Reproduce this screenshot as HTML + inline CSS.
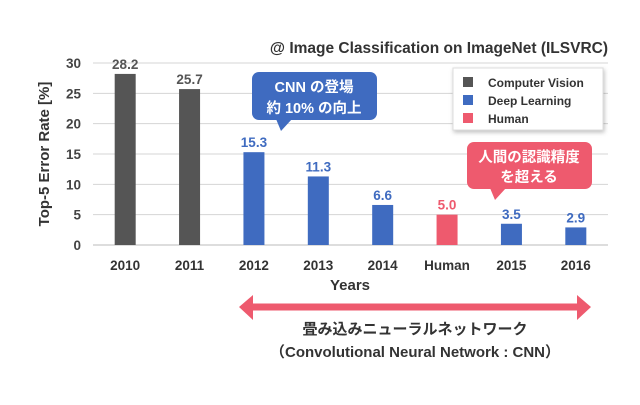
<!DOCTYPE html>
<html><head><meta charset="utf-8"><style>
body{margin:0;background:#fff}
svg text{font-family:"Liberation Sans","Noto Sans CJK JP",sans-serif;font-weight:bold}
</style></head><body>
<svg width="640" height="400" viewBox="0 0 640 400">
<text x="608" y="53" text-anchor="end" font-size="15.5" fill="#333">@ Image Classification on ImageNet (ILSVRC)</text>
<g id="grid"></g>
<g id="bars"></g>
<text transform="translate(49,154) rotate(-90)" text-anchor="middle" font-size="15" fill="#333">Top-5 Error Rate [%]</text>
<text x="350" y="290" text-anchor="middle" font-size="15" fill="#333">Years</text>
<g>
<rect x="453" y="68" width="150" height="62" fill="#fff" stroke="#ddd" style="filter:drop-shadow(1px 2px 2px rgba(0,0,0,0.25))"/>
<rect x="463" y="77" width="10" height="10" fill="#555"/><text x="488" y="87" font-size="12" fill="#333">Computer Vision</text>
<rect x="463" y="95" width="10" height="10" fill="#3f6bc0"/><text x="488" y="105" font-size="12" fill="#333">Deep Learning</text>
<rect x="463" y="113" width="10" height="10" fill="#ee5a6e"/><text x="488" y="123" font-size="12" fill="#333">Human</text>
</g>
<g>
<rect x="252" y="72" width="125" height="48" rx="7" fill="#3f6bc0"/>
<polygon points="276,119 292,119 281,131" fill="#3f6bc0"/>
<text x="314" y="92" text-anchor="middle" font-size="14.5" fill="#fff">CNN の登場</text>
<text x="314" y="113" text-anchor="middle" font-size="14.5" fill="#fff">約 10% の向上</text>
</g>
<g>
<rect x="467" y="142" width="125" height="47" rx="7" fill="#ee5a6e"/>
<polygon points="490,188 506,188 495,200" fill="#ee5a6e"/>
<text x="529" y="162" text-anchor="middle" font-size="14.5" fill="#fff">人間の認識精度</text>
<text x="529" y="182" text-anchor="middle" font-size="14.5" fill="#fff">を超える</text>
</g>
<polygon points="239,307 253,295 253,303.5 577,303.5 577,295 591,307 577,320 577,310.5 253,310.5 253,320" fill="#ee5a6e"/>
<text x="415" y="334" text-anchor="middle" font-size="15" fill="#333">畳み込みニューラルネットワーク</text>
<text x="415" y="357" text-anchor="middle" font-size="15" fill="#333">（Convolutional Neural Network : CNN）</text>
</svg>
<script>
const categories=["2010","2011","2012","2013","2014","Human","2015","2016"];
const values=[28.2,25.7,15.3,11.3,6.6,5.0,3.5,2.9];
const groups=["cv","cv","dl","dl","dl","human","dl","dl"];
const yTicks=[0,5,10,15,20,25,30];
const colors={cv:"#555555",dl:"#3f6bc0",human:"#ee5a6e"};
const labelColors={cv:"#555555",dl:"#3f6bc0",human:"#ee5a6e"};
const NS="http://www.w3.org/2000/svg";
const L=93,R=608,T=63,B=245,yMax=30;
const y=v=>B-(v/yMax)*(B-T);
const band=(R-L)/categories.length;
const x=i=>L+band*(i+0.5);
function mk(tag,attrs,parent,txt){const e=document.createElementNS(NS,tag);for(const k in attrs)e.setAttribute(k,attrs[k]);if(txt!==undefined)e.textContent=txt;parent.appendChild(e);return e;}
const grid=document.getElementById("grid"),bars=document.getElementById("bars");
yTicks.forEach(t=>{
 const l=mk("line",{x1:L,x2:R,y1:y(t),y2:y(t),stroke:t===0?"#bbb":"#d4d4d4","stroke-width":1},grid);
 
 
 const tx=mk("text",{x:L-12,y:y(t)+5,"text-anchor":"end","font-size":13.5,fill:"#444"},grid,String(t));
 
 
});
categories.forEach((c,i)=>{
 const w=21,g=groups[i];
 const r=mk("rect",{x:x(i)-w/2,y:y(values[i]),width:w,height:B-y(values[i]),fill:colors[g]},bars);
 
 
 const v=mk("text",{x:x(i),y:y(values[i])-5,"text-anchor":"middle","font-size":13.5,fill:labelColors[g]},bars,values[i].toFixed(1));
 
 
 const cl=mk("text",{x:x(i),y:270,"text-anchor":"middle","font-size":13.5,fill:"#333"},bars,c);
 
 
});
</script>
</body></html>
